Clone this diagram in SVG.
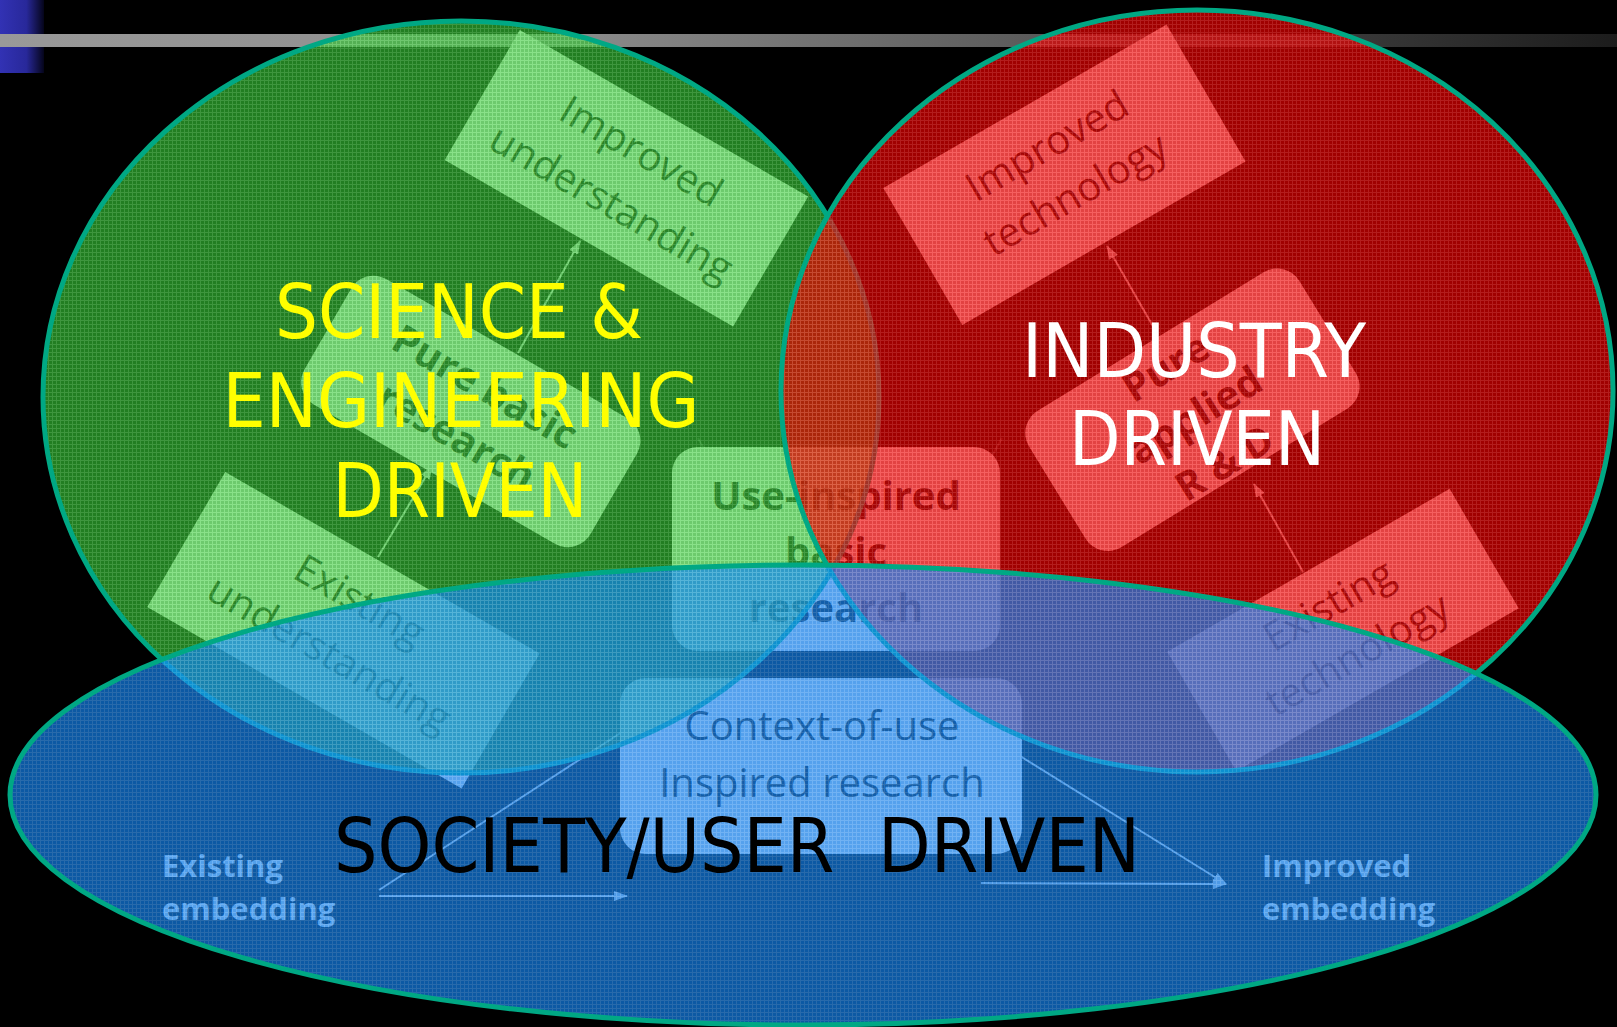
<svg xmlns="http://www.w3.org/2000/svg" width="1617" height="1027" viewBox="0 0 1617 1027">
<defs>
<style>
.box{fill:#DCDCDC}
.lbl{font-family:"Open Sans","Liberation Sans",sans-serif;font-size:40px;fill:#111;text-anchor:middle}
.lblb{font-family:"Open Sans","Liberation Sans",sans-serif;font-size:40px;font-weight:bold;fill:#111;text-anchor:middle}
.emb{font-family:"Open Sans","Liberation Sans",sans-serif;font-size:31px;font-weight:bold;fill:#D8D8D8}
.con{stroke:#C8C8C8;stroke-width:2;fill:none}
.dark{stroke:#333;stroke-width:2;fill:none}
.title{font-family:"DejaVu Sans Condensed","DejaVu Sans",sans-serif;font-stretch:condensed;font-size:74px;text-anchor:middle}
.ring{stroke:#00A884;stroke-width:5}
</style>
<linearGradient id="barG" x1="0" y1="0" x2="1" y2="0">
<stop offset="0" stop-color="#999"/>
<stop offset="0.35" stop-color="#8c8c8c"/>
<stop offset="0.55" stop-color="#6a6a6a"/>
<stop offset="1" stop-color="#1c1c1c"/>
</linearGradient>
<linearGradient id="sqG" x1="0" y1="0" x2="1" y2="0">
<stop offset="0" stop-color="#3232B4"/>
<stop offset="0.6" stop-color="#28289a"/>
<stop offset="1" stop-color="#05051a"/>
</linearGradient>
<pattern id="pG" width="4" height="4" patternUnits="userSpaceOnUse">
<rect width="4" height="4" fill="#34C034"/>
<path d="M0 0.5H4M0.5 0V4" stroke="#5EE45E" stroke-width="1"/>
</pattern>
<pattern id="pR" width="4" height="4" patternUnits="userSpaceOnUse">
<rect width="4" height="4" fill="#E40000"/>
<path d="M0 0.5H4M0.5 0V4" stroke="#FF2A2A" stroke-width="1"/>
</pattern>
<pattern id="pB" width="4" height="4" patternUnits="userSpaceOnUse">
<rect width="4" height="4" fill="#1284F5"/>
<path d="M0 0.5H4M0.5 0V4" stroke="#3C9EFF" stroke-width="1"/>
</pattern>
<marker id="arr" markerWidth="14" markerHeight="10" refX="13" refY="5" orient="auto" markerUnits="userSpaceOnUse">
<path d="M0 0L14 5L0 10z" fill="#C8C8C8"/>
</marker>
</defs>
<rect width="1617" height="1027" fill="#000"/>
<g id="header">
<rect x="0" y="0" width="44" height="73" fill="url(#sqG)"/>
<rect x="0" y="34" width="1617" height="13" fill="url(#barG)"/>
</g>
<g id="connectors">
<line class="con" x1="378" y1="557" x2="432" y2="466" marker-end="url(#arr)"/>
<line class="con" x1="518" y1="353" x2="580" y2="241" marker-end="url(#arr)"/>
<line class="con" x1="1303" y1="572" x2="1254" y2="484" marker-end="url(#arr)"/>
<line class="con" x1="1158" y1="335" x2="1107" y2="246" marker-end="url(#arr)"/>
<line class="dark" x1="698" y1="438" x2="711" y2="462"/>
<line class="dark" x1="1002" y1="438" x2="992" y2="456"/>
<line class="con" x1="379" y1="890" x2="622" y2="732"/>
<line class="con" x1="379" y1="896" x2="627" y2="896" marker-end="url(#arr)"/>
<line class="con" x1="1020" y1="756" x2="1226" y2="884" marker-end="url(#arr)"/>
<line class="con" x1="981" y1="883" x2="1226" y2="884" marker-end="url(#arr)"/>
</g>
<g id="improved-understanding" transform="translate(626,178) rotate(30)">
<rect class="box" x="-166" y="-75" width="333" height="150"/>
<text class="lbl" x="0" y="-17">Improved</text>
<text class="lbl" x="0" y="43">understanding</text>
</g>
<g id="pure-basic-research" transform="translate(471,411) rotate(30)">
<rect class="box" x="-165" y="-72" width="330" height="145" rx="26"/>
<text class="lblb" x="0" y="-14">Pure basic</text>
<text class="lblb" x="0" y="43">research</text>
</g>
<g id="existing-understanding" transform="translate(343,630) rotate(30)">
<rect class="box" x="-181" y="-78" width="363" height="156"/>
<text class="lbl" x="0" y="-20">Existing</text>
<text class="lbl" x="0" y="41">understanding</text>
</g>
<g id="improved-technology" transform="translate(1064,175) rotate(-30)">
<rect class="box" x="-163" y="-79" width="327" height="158"/>
<text class="lbl" x="0" y="-20">Improved</text>
<text class="lbl" x="0" y="36">technology</text>
</g>
<g id="pure-applied-rd" transform="translate(1192,410) rotate(-31.5)">
<rect class="box" x="-158" y="-80" width="317" height="160" rx="26"/>
<text class="lblb" x="0" y="-36">Pure</text>
<text class="lblb" x="0" y="20">applied</text>
<text class="lblb" x="0" y="76">R &amp; D</text>
</g>
<g id="existing-technology" transform="translate(1343,630) rotate(-30)">
<rect class="box" x="-163" y="-69" width="326" height="138"/>
<text class="lbl" x="0" y="-15">Existing</text>
<text class="lbl" x="0" y="42">technology</text>
</g>
<g id="use-inspired-basic-research">
<rect class="box" x="672" y="447" width="328" height="204" rx="26"/>
<text class="lblb" x="836" y="510">Use-inspired</text>
<text class="lblb" x="836" y="566">basic</text>
<text class="lblb" x="836" y="622">research</text>
</g>
<g id="context-of-use-research">
<rect class="box" x="620" y="678" width="402" height="176" rx="26"/>
<text class="lbl" x="822" y="740">Context-of-use</text>
<text class="lbl" x="822" y="797">Inspired research</text>
</g>
<g id="existing-embedding">
<text class="emb" x="162" y="877">Existing</text>
<text class="emb" x="162" y="920">embedding</text>
</g>
<g id="improved-embedding">
<text class="emb" x="1262" y="877">Improved</text>
<text class="emb" x="1262" y="920">embedding</text>
</g>
<g id="science-engineering-driven">
<ellipse class="ring" cx="461" cy="397" rx="418" ry="376" fill="url(#pG)" fill-opacity="0.66"/>
</g>
<g id="industry-driven">
<ellipse class="ring" cx="1197" cy="391" rx="416" ry="381" fill="url(#pR)" fill-opacity="0.7"/>
</g>
<g id="society-user-driven">
<ellipse class="ring" cx="803" cy="795" rx="793" ry="230" fill="url(#pB)" fill-opacity="0.67"/>
</g>
<g id="titles">
<text class="title" fill="#FFFF00" x="459" y="338" textLength="368" lengthAdjust="spacingAndGlyphs">SCIENCE &amp;</text>
<text class="title" fill="#FFFF00" x="461" y="427" textLength="477" lengthAdjust="spacingAndGlyphs">ENGINEERING</text>
<text class="title" fill="#FFFF00" x="460" y="517" textLength="255" lengthAdjust="spacingAndGlyphs">DRIVEN</text>
<text class="title" fill="#FFFFFF" x="1194" y="377" textLength="344" lengthAdjust="spacingAndGlyphs">INDUSTRY</text>
<text class="title" fill="#FFFFFF" x="1197" y="465" textLength="256" lengthAdjust="spacingAndGlyphs">DRIVEN</text>
<text class="title" fill="#000000" x="737" y="872" textLength="806" lengthAdjust="spacingAndGlyphs" xml:space="preserve">SOCIETY/USER  DRIVEN</text>
</g>
</svg>
